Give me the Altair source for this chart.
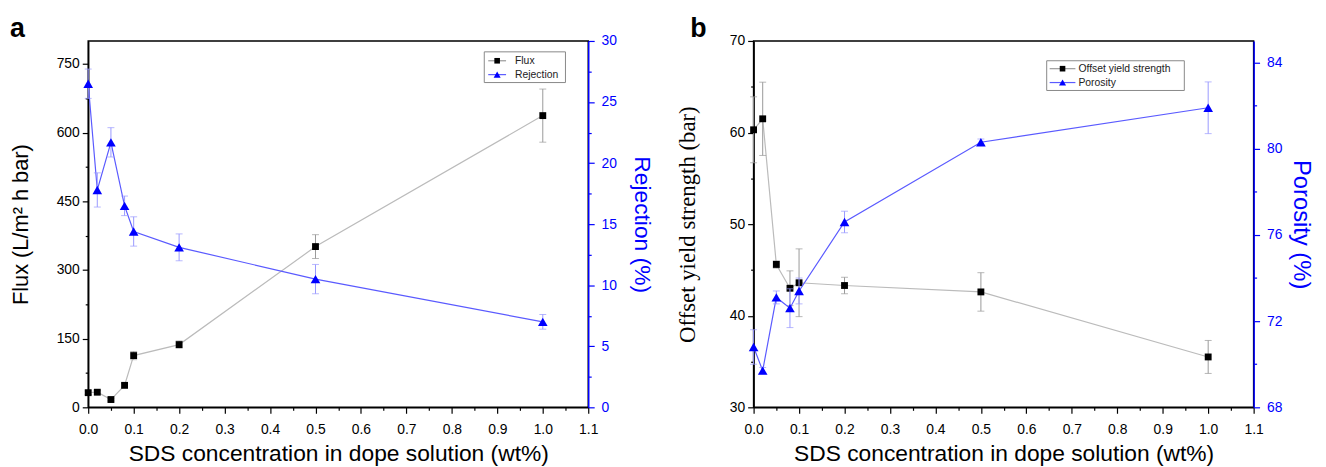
import altair as alt
import pandas as pd

# ---------------- data ----------------
conc = [0.0, 0.02, 0.05, 0.08, 0.1, 0.2, 0.5, 1.0]
flux = [32, 33, 17, 48, 113, 137, 351, 637]
flux_err = [4, 4, 3, 4, 9, 8, 26, 58]
rejection = [26.5, 17.8, 21.7, 16.5, 14.4, 13.1, 10.5, 7.0]
rejection_err = [1.2, 1.4, 1.2, 0.8, 1.2, 1.1, 1.2, 0.6]
strength = [60.3, 61.5, 45.6, 43.0, 43.6, 43.3, 42.6, 35.5]
strength_err = [3.6, 4.0, 0.4, 1.9, 3.7, 0.9, 2.1, 1.8]
porosity = [70.8, 69.7, 73.1, 72.6, 73.4, 76.6, 80.3, 81.9]
porosity_err = [0.8, 0.15, 0.3, 0.9, 0.6, 0.5, 0.15, 1.2]

x_ticks = [0.0, 0.05, 0.1, 0.15, 0.2, 0.25, 0.3, 0.35, 0.4, 0.45, 0.5, 0.55,
           0.6, 0.65, 0.7, 0.75, 0.8, 0.85, 0.9, 0.95, 1.0, 1.05, 1.1]
flux_ticks = [0, 75, 150, 225, 300, 375, 450, 525, 600, 675, 750]
rej_ticks = [0, 2.5, 5, 7.5, 10, 12.5, 15, 17.5, 20, 22.5, 25, 27.5, 30]
str_ticks = [30, 35, 40, 45, 50, 55, 60, 65, 70]
por_ticks = [68, 70, 72, 74, 76, 78, 80, 82, 84]

legend_a = ["Flux", "Rejection"]
legend_b = ["Offset yield strength", "Porosity"]
x_title = "SDS concentration in dope solution (wt%)"

W, H = 505, 370
BLUE = "#0000ff"
SANS = "Liberation Sans"


def tick_size(test):
    return {"condition": {"test": test, "value": 6}, "value": 3}


X_MAJOR = "round(datum.value * 100) % 10 == 0"


def x_enc():
    return alt.X(
        "c:Q",
        scale=alt.Scale(domain=[0, 1.1], nice=False, zero=False),
        axis=alt.Axis(
            values=x_ticks,
            labelExpr=f"{X_MAJOR} ? format(datum.value, '.1f') : ''",
            tickSize=tick_size(X_MAJOR),
            labelFlush=False,
            title=x_title,
            titleFontSize=23,
            titlePadding=7,
            labelPadding=9,
            grid=False,
        ),
    )


def y_axis(ticks, major_test, title, orient, color, title_font, title_size,
           label_pad, title_pad):
    return alt.Axis(
        values=ticks,
        labelExpr=f"({major_test}) ? datum.label : ''",
        tickSize=tick_size(major_test),
        labelFlush=False,
        title=title,
        orient=orient,
        domainColor=color,
        tickColor=color,
        labelColor=color,
        titleColor=color,
        titleFont=title_font,
        titleFontSize=title_size,
        labelPadding=label_pad,
        titlePadding=title_pad,
        grid=False,
    )


def series(df, val, err, domain, axis, line_color, err_color, pt_color,
           shape, size):
    d = df.assign(lo=df[val] - df[err], hi=df[val] + df[err])
    base = alt.Chart(d)
    sc = alt.Scale(domain=domain, nice=False, zero=False)

    def y(field):
        return alt.Y(f"{field}:Q", scale=sc, axis=axis)

    line = base.mark_line(color=line_color, strokeWidth=1.2).encode(
        x=x_enc(), y=y(val))
    rule = base.mark_rule(color=err_color, strokeWidth=1).encode(
        x=x_enc(), y=y("lo"), y2="hi:Q")
    cap_lo = base.mark_tick(color=err_color, orient="horizontal", size=7,
                            thickness=1).encode(x=x_enc(), y=y("lo"))
    cap_hi = base.mark_tick(color=err_color, orient="horizontal", size=7,
                            thickness=1).encode(x=x_enc(), y=y("hi"))
    pts = base.mark_point(shape=shape, filled=True, color=pt_color,
                          size=size, opacity=1).encode(x=x_enc(), y=y(val))
    return alt.layer(line, rule, cap_lo, cap_hi, pts)


def legend(labels, line_colors, pt_colors, shapes, sizes, box, rows,
           line_x, text_x):
    dummy = pd.DataFrame({"k": [0]})
    layers = [
        alt.Chart(dummy).mark_rect(fill="white", stroke="#888888",
                                   strokeWidth=1).encode(
            x=alt.value(box[0]), x2=alt.value(box[1]),
            y=alt.value(box[2]), y2=alt.value(box[3]))
    ]
    for i, lab in enumerate(labels):
        layers.append(alt.Chart(dummy).mark_rule(
            color=line_colors[i], strokeWidth=1.2).encode(
            x=alt.value(line_x[0]), x2=alt.value(line_x[1]),
            y=alt.value(rows[i])))
        layers.append(alt.Chart(dummy).mark_point(
            shape=shapes[i], filled=True, color=pt_colors[i],
            size=sizes[i], opacity=1).encode(
            x=alt.value((line_x[0] + line_x[1]) / 2), y=alt.value(rows[i])))
        layers.append(alt.Chart(pd.DataFrame({"t": [lab]})).mark_text(
            align="left", baseline="middle", fontSize=10.5, font=SANS,
            color="#222222").encode(
            x=alt.value(text_x), y=alt.value(rows[i]), text="t:N"))
    return layers


def panel_label(txt, x):
    return alt.Chart(pd.DataFrame({"t": [txt]})).mark_text(
        align="left", baseline="alphabetic", fontSize=27, fontWeight="bold",
        font=SANS, color="black").encode(
        x=alt.value(x), y=alt.value(-4), text="t:N")


df_a = pd.DataFrame({"c": conc, "flux": flux, "flux_err": flux_err,
                     "rej": rejection, "rej_err": rejection_err})
df_b = pd.DataFrame({"c": conc, "str": strength, "str_err": strength_err,
                     "por": porosity, "por_err": porosity_err})

left_a = series(
    df_a, "flux", "flux_err", [0, 800],
    y_axis(flux_ticks, "datum.value % 150 == 0", "Flux (L/m\u00b2 h bar)",
           "left", "black", SANS, 22, 3, 24),
    "#bbbbbb", "#999999", "black", "square", 48)
right_a = series(
    df_a, "rej", "rej_err", [0, 30],
    y_axis(rej_ticks, "datum.value % 5 == 0", "Rejection (%)", "right",
           BLUE, SANS, 23, 7, 13),
    "#5a5aff", "#9999ff", BLUE, "triangle-up", 95)

panel_a = alt.layer(
    left_a, right_a,
    *legend(legend_a, ["#999999", "#5a5aff"], ["black", BLUE],
            ["square", "triangle-up"], [32, 50], [400, 482, 11, 42],
            [20, 34], [404, 422], 431),
    panel_label("a", -79),
).resolve_scale(y="independent").properties(width=W, height=H)

left_b = series(
    df_b, "str", "str_err", [30, 70],
    y_axis(str_ticks, "datum.value % 10 == 0", "Offset yield strength (bar)",
           "left", "black", "Liberation Serif", 23, 3, 30),
    "#bbbbbb", "#999999", "black", "square", 48)
right_b = series(
    df_b, "por", "por_err", [68, 85],
    y_axis(por_ticks, "datum.value % 4 == 0", "Porosity (%)", "right",
           BLUE, SANS, 24, 7, 7),
    "#5a5aff", "#9999ff", BLUE, "triangle-up", 95)

panel_b = alt.layer(
    left_b, right_b,
    *legend(legend_b, ["#999999", "#5a5aff"], ["black", BLUE],
            ["square", "triangle-up"], [32, 50], [296, 435, 20, 50],
            [28, 42], [299, 325], 328),
    panel_label("b", -64),
).resolve_scale(y="independent").properties(width=W, height=H)

chart = alt.hconcat(panel_a, panel_b, spacing=22).properties(
    padding={"left": 0, "right": 4, "top": 4, "bottom": 0}
).configure_view(
    stroke="black", strokeWidth=1.5
).configure_axis(
    labelFont=SANS, labelFontSize=14, labelColor="black",
    titleFont=SANS, titleFontSize=20, titleFontWeight="normal",
    domainColor="black", domainWidth=1.5, tickColor="black", tickWidth=1.2,
)

chart.save("out.html", embed_options={"renderer": "svg", "actions": False})
